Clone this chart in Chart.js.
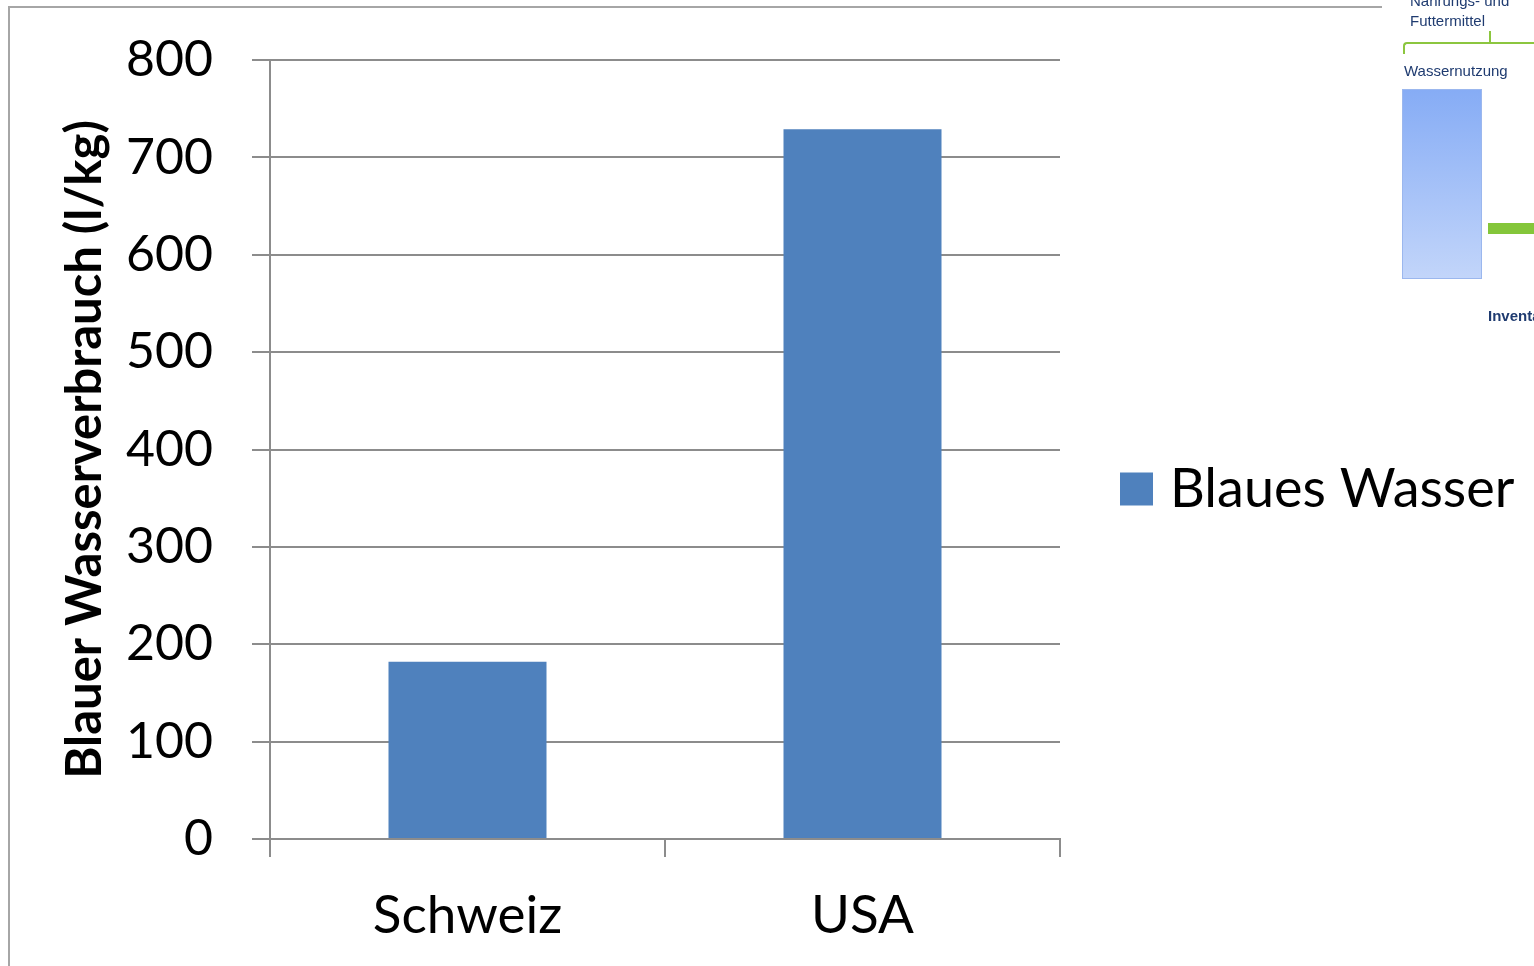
<!DOCTYPE html>
<html>
<head>
<meta charset="utf-8">
<script src="https://cdn.jsdelivr.net/npm/chart.js@4.4.1/dist/chart.umd.min.js"></script>
<style>
  html, body { margin: 0; padding: 0; background: #fff; overflow: hidden; }
  #wrap { position: absolute; left: 0; top: 0; width: 1534px; height: 966px; }
  #frame { position: absolute; left: 8px; top: 6px; width: 1372px; height: 970px;
           border-top: 2px solid #a6a6a6; border-left: 2px solid #a6a6a6; }
  #inset { position: absolute; left: 1390px; top: 0; width: 144px; height: 340px; overflow: hidden;
           font-family: "Liberation Sans", Arial, sans-serif; color: #1f3b70; }
  #inset .t { position: absolute; font-size: 15px; line-height: 17px; white-space: nowrap; }
  #inset .brace { position: absolute; left: 13px; top: 42px; width: 140px; height: 10px;
                  border-top: 2px solid #8cc63f; border-left: 2px solid #8cc63f; border-radius: 4px 0 0 0; }
  #inset .notch { position: absolute; left: 99px; top: 31px; width: 2px; height: 12px; background: #8cc63f; }
  #inset .blue { position: absolute; left: 12px; top: 89px; width: 78px; height: 188px;
                 background: linear-gradient(#86acf5, #c2d5fa); border: 1px solid #9bb7ee; }
  #inset .green { position: absolute; left: 98px; top: 223px; width: 60px; height: 11px; background: #84c63a; }
</style>
</head>
<body>
<div id="wrap">
  <canvas id="chart" width="1534" height="966"></canvas>
  <div id="frame"></div>
  <div id="inset">
    <div class="t" style="left:20px;top:-8px;">Nahrungs- und</div>
    <div class="t" style="left:20px;top:12px;">Futtermittel</div>
    <div class="brace"></div>
    <div class="notch"></div>
    <div class="t" style="left:14px;top:62px;">Wassernutzung</div>
    <div class="blue"></div>
    <div class="green"></div>
    <div class="t" style="left:98px;top:307px;font-weight:bold;">Inventar</div>
  </div>
</div>
<script>
const countries = ['Schweiz', 'USA'];
const blueWater = [182, 729];
const seriesName = 'Blaues Wasser';
const yTitle = 'Blauer Wasserverbrauch (l/kg)';

const gridColor = '#8c8c8c';
const fontFamily = 'Lato, "Open Sans", sans-serif';

// legend drawn to the right of the plot, like the spreadsheet original
const sideLegend = {
    id: 'sideLegend',
    afterDraw(chart) {
        const c = chart.ctx;
        const area = chart.chartArea;
        const midY = (area.top + area.bottom) / 2 + 40;
        chart.data.datasets.forEach(ds => {
            c.save();
            c.fillStyle = ds.backgroundColor;
            c.fillRect(area.right + 60, midY - 17, 33, 33);
            c.fillStyle = '#000';
            c.font = '54px ' + fontFamily;
            c.textBaseline = 'middle';
            c.fillText(ds.label, area.right + 110, midY);
            c.restore();
        });
    }
};

const ctx = document.getElementById('chart').getContext('2d');
const waterChart = new Chart(ctx, {
    type: 'bar',
    data: {
        labels: countries,
        datasets: [{
            label: seriesName,
            data: blueWater,
            backgroundColor: '#4f81bd',
            borderWidth: 0,
            categoryPercentage: 1,
            barPercentage: 0.4
        }]
    },
    options: {
        responsive: false,
        animation: false,
        layout: {
            padding: { left: 46, top: 60, bottom: 20, right: 474 }
        },
        plugins: {
            tooltip: { enabled: false },
            legend: { display: false }
        },
        scales: {
            y: {
                min: 0,
                max: 800,
                afterFit: s => { s.width = 224; s.paddingTop = 0; s.paddingBottom = 0; },
                ticks: {
                    stepSize: 100,
                    color: '#000',
                    padding: 39,
                    font: { family: fontFamily, size: 50 }
                },
                grid: { color: gridColor, lineWidth: 2, tickLength: 18 },
                border: { color: gridColor, width: 2 },
                title: {
                    display: true,
                    text: yTitle,
                    color: '#000',
                    padding: { top: 10, bottom: 0 },
                    font: { family: fontFamily, size: 49, weight: 'bold' }
                }
            },
            x: {
                afterFit: s => { s.height = 107; },
                ticks: {
                    color: '#000',
                    padding: 27,
                    font: { family: fontFamily, size: 53 }
                },
                grid: { color: gridColor, lineWidth: 2, tickLength: 18, drawOnChartArea: false },
                border: { color: gridColor, width: 2 }
            }
        }
    },
    plugins: [sideLegend]
});
</script>
</body>
</html>
